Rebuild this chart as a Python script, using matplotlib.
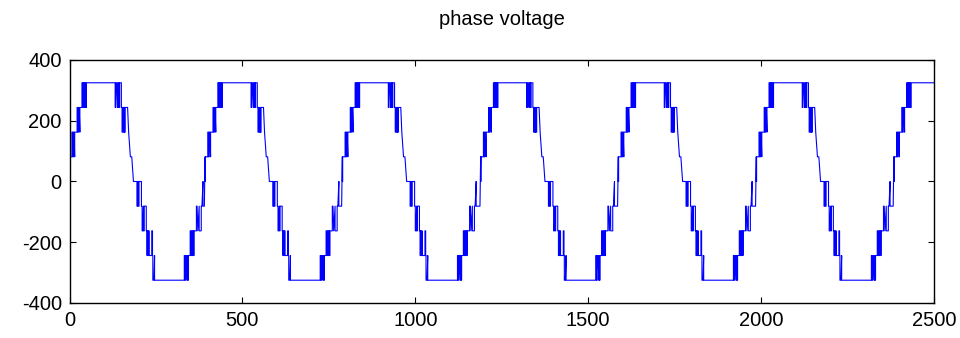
import matplotlib
matplotlib.use("Agg")
import matplotlib.pyplot as plt

# voltage of one level step of the inverter
levelStep = 81.25

# rising zero crossings of every cycle (sample index)
cycleStarts = [-7, 386, 783, 1183, 1581, 1980, 2378]

# switching events inside one cycle: phase (samples), new level, ramp width (samples)
switchPhase = [4, 6, 7, 14, 16, 18, 20, 22, 29, 31, 33, 35, 37, 43, 45, 47, 48, 50, 51, 53, 54, 56,
               139, 141, 143, 146, 147, 149, 150, 152, 157, 159, 161, 163, 165, 166, 168, 175, 178, 187,
               202, 204, 206, 208, 215, 217, 219, 221, 223, 229, 231, 232, 234, 236, 237, 245, 247, 248, 251, 253,
               339, 341, 343, 345, 347, 350, 351, 356, 358, 360, 362, 364, 366, 367, 374, 376, 378, 382, 388, 390, 393]
switchLevel = [1, 0, 1, 2, 1, 2, 1, 2, 3, 2, 3, 2, 3, 4, 3, 4, 3, 4, 3, 4, 3, 4,
               3, 4, 3, 4, 3, 4, 3, 4, 3, 2, 3, 2, 3, 2, 3, 2, 1, 0,
               -1, 0, -1, 0, -1, -2, -1, -2, -1, -2, -3, -2, -3, -2, -3, -2, -3, -4, -3, -4,
               -3, -4, -3, -4, -3, -4, -3, -2, -3, -2, -3, -2, -3, -2, -1, -2, -1, -2, -1, 0, -1, 0]
switchRamp = [2, 0, 0, 0, 0, 0, 2, 0, 0, 0, 0, 2, 0, 0, 0, 0, 0, 0, 0, 0, 0, 0,
              0, 0, 3, 0, 0, 0, 0, 0, 0, 0, 0, 0, 0, 0, 0, 3, 5, 5,
              0, 0, 0, 0, 0, 0, 2, 0, 0, 0, 0, 0, 0, 0, 0, 0, 0, 0, 2, 0,
              0, 0, 0, 3, 0, 0, 0, 0, 0, 0, 0, 0, 0, 0, 0, 2, 4, 0, 0, 3, 0]

t = [0]
v = [0]
level = 0
for start in cycleStarts:
    for p, lv, r in zip(switchPhase, switchLevel, switchRamp):
        t.append(start + p)
        v.append(level * levelStep)
        t.append(start + p + r)
        v.append(lv * levelStep)
        level = lv
t.append(2600)
v.append(level * levelStep)

pts = [(a, b) for a, b in zip(t, v) if a >= 0]
t = [a for a, b in pts]
v = [b for a, b in pts]
t.insert(0, 0)
v.insert(0, 0)

plt.rcParams['font.family'] = ['Liberation Sans', 'DejaVu Sans']
plt.rcParams['axes.unicode_minus'] = False

fig = plt.figure(figsize=(9.6, 3.38), dpi=100)
ax = fig.add_axes([0.0724, 0.1036, 0.9005, 0.7189])
ax.plot(t, v, color='#0000ff', linewidth=0.8)
ax.set_xlim(0, 2500)
ax.set_ylim(-400, 400)
ax.set_xticks([0, 500, 1000, 1500, 2000, 2500])
ax.set_yticks([-400, -200, 0, 200, 400])
ax.tick_params(direction='in', length=4.5, width=0.8, top=True, right=True,
               labelsize=14.5, pad=5.5)
for s in ax.spines.values():
    s.set_linewidth(1.0)
ax.set_title("phase voltage", fontsize=14.5, pad=25)
fig.savefig("out.png", dpi=100)
